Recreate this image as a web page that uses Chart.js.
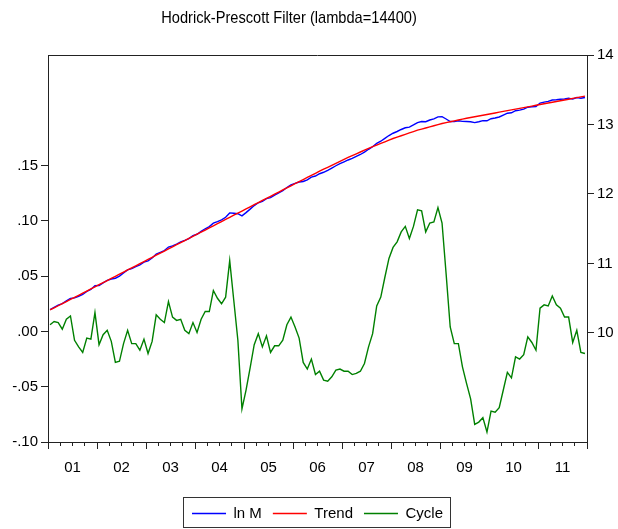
<!DOCTYPE html>
<html lang="en">
<head>
<meta charset="UTF-8" />
<title>Hodrick-Prescott Filter (lambda=14400)</title>
<script src="https://cdn.jsdelivr.net/npm/chart.js@4.4.1/dist/chart.umd.min.js"></script>
<style>
  body{margin:0;background:#fff}
  #wrap{width:618px;height:529px}
</style>
</head>
<body>
<div id="wrap"><canvas id="c"></canvas></div>
<script>
// monthly sample 2001M01 .. 2011M12
const MONTHS = [];
for (let y = 2001; y <= 2011; y++) {
  for (let m = 1; m <= 12; m++) MONTHS.push(y + 'M' + String(m).padStart(2, '0'));
}
const YEAR_LABELS = ['01', '02', '03', '04', '05', '06', '07', '08', '09', '10', '11'];
const TITLE = 'Hodrick-Prescott Filter (lambda=14400)';

const LN_M = [
  10.336, 10.369, 10.399, 10.423, 10.462, 10.496, 10.504, 10.528, 10.553, 10.597, 10.626, 10.680,
  10.682, 10.721, 10.755, 10.776, 10.787, 10.818, 10.864, 10.907, 10.925, 10.955, 10.980, 11.020,
  11.037, 11.079, 11.133, 11.159, 11.186, 11.236, 11.252, 11.279, 11.311, 11.331, 11.358, 11.399,
  11.420, 11.462, 11.499, 11.530, 11.579, 11.602, 11.628, 11.664, 11.727, 11.722, 11.716, 11.684,
  11.731, 11.782, 11.833, 11.873, 11.892, 11.932, 11.947, 11.984, 12.014, 12.049, 12.093, 12.131,
  12.152, 12.172, 12.180, 12.203, 12.242, 12.258, 12.291, 12.312, 12.339, 12.372, 12.406, 12.436,
  12.462, 12.489, 12.512, 12.540, 12.568, 12.602, 12.643, 12.679, 12.727, 12.759, 12.800, 12.841,
  12.874, 12.899, 12.928, 12.953, 12.962, 12.993, 13.028, 13.043, 13.040, 13.064, 13.081, 13.110,
  13.112, 13.079, 13.043, 13.041, 13.053, 13.045, 13.042, 13.039, 13.027, 13.040, 13.055, 13.053,
  13.083, 13.093, 13.108, 13.135, 13.162, 13.168, 13.198, 13.207, 13.222, 13.249, 13.255, 13.259,
  13.308, 13.322, 13.332, 13.352, 13.355, 13.363, 13.366, 13.377, 13.365, 13.387, 13.378, 13.388
];
const TREND = [
  10.330, 10.360, 10.391, 10.421, 10.451, 10.482, 10.512, 10.542, 10.572, 10.603, 10.633, 10.663,
  10.694, 10.724, 10.754, 10.785, 10.815, 10.845, 10.875, 10.906, 10.936, 10.966, 10.997, 11.027,
  11.057, 11.088, 11.118, 11.148, 11.178, 11.209, 11.239, 11.269, 11.300, 11.330, 11.360, 11.391,
  11.421, 11.451, 11.481, 11.512, 11.542, 11.572, 11.603, 11.633, 11.663, 11.694, 11.724, 11.754,
  11.784, 11.815, 11.845, 11.875, 11.906, 11.936, 11.966, 11.997, 12.027, 12.057, 12.087, 12.118,
  12.148, 12.178, 12.208, 12.237, 12.267, 12.297, 12.327, 12.356, 12.384, 12.413, 12.441, 12.470,
  12.498, 12.525, 12.551, 12.578, 12.604, 12.631, 12.657, 12.681, 12.704, 12.728, 12.751, 12.775,
  12.798, 12.818, 12.838, 12.858, 12.878, 12.898, 12.918, 12.934, 12.950, 12.966, 12.982, 12.998,
  13.014, 13.027, 13.039, 13.052, 13.064, 13.077, 13.089, 13.100, 13.111, 13.122, 13.133, 13.144,
  13.155, 13.166, 13.177, 13.188, 13.199, 13.210, 13.221, 13.232, 13.243, 13.254, 13.265, 13.276,
  13.287, 13.298, 13.309, 13.320, 13.331, 13.342, 13.353, 13.364, 13.375, 13.386, 13.397, 13.408
];
const CYCLE = [
  0.006, 0.009, 0.008, 0.002, 0.011, 0.014, -0.008, -0.014, -0.019, -0.006, -0.007, 0.017,
  -0.012, -0.003, 0.001, -0.009, -0.028, -0.027, -0.011, 0.001, -0.011, -0.011, -0.017, -0.007,
  -0.020, -0.009, 0.015, 0.011, 0.008, 0.027, 0.013, 0.010, 0.011, 0.001, -0.002, 0.008,
  -0.001, 0.011, 0.018, 0.018, 0.037, 0.030, 0.025, 0.031, 0.064, 0.028, -0.008, -0.070,
  -0.053, -0.033, -0.012, -0.002, -0.014, -0.004, -0.019, -0.013, -0.013, -0.008, 0.006, 0.013,
  0.004, -0.006, -0.028, -0.034, -0.025, -0.039, -0.036, -0.044, -0.045, -0.041, -0.035, -0.034,
  -0.036, -0.036, -0.039, -0.038, -0.036, -0.029, -0.014, -0.002, 0.023, 0.031, 0.049, 0.066,
  0.076, 0.081, 0.090, 0.095, 0.084, 0.095, 0.110, 0.109, 0.090, 0.098, 0.099, 0.112,
  0.098, 0.052, 0.004, -0.011, -0.011, -0.032, -0.047, -0.061, -0.084, -0.082, -0.078, -0.091,
  -0.072, -0.073, -0.069, -0.053, -0.037, -0.042, -0.023, -0.025, -0.021, -0.005, -0.010, -0.017,
  0.021, 0.024, 0.023, 0.032, 0.024, 0.021, 0.013, 0.013, -0.010, 0.001, -0.019, -0.020
];

const LEFT_TICKS = [-0.10, -0.05, 0, 0.05, 0.10, 0.15];
const LEFT_TICK_LABELS = ['-.10', '-.05', '.00', '.05', '.10', '.15'];
const RIGHT_TICKS = [10, 11, 12, 13, 14];

const FONT = '"Liberation Sans", Arial, sans-serif';
const AXIS = '#222';
Chart.defaults.font.family = FONT;
Chart.defaults.color = '#000';

const toXY = arr => arr.map((v, i) => ({ x: i, y: v }));

// narrow title, top of the frame, legend centred under the plot and boxed
const framePlugin = {
  id: 'frame',
  afterLayout(chart) {
    const lg = chart.legend, a = chart.chartArea;
    if (!lg) return;
    const dx = (a.left + a.right) / 2 - chart.width / 2;
    lg.left += dx; lg.right += dx;
    lg.top += 4; lg.bottom += 4;
  },
  afterDraw(chart) {
    const { ctx, chartArea: a, legend } = chart;
    ctx.save();
    ctx.fillStyle = '#000';
    ctx.font = '17px ' + FONT;
    ctx.textAlign = 'center';
    ctx.textBaseline = 'middle';
    ctx.translate(289, 18);
    ctx.scale(0.86, 1);
    ctx.fillText(TITLE, 0, 0);
    ctx.restore();

    ctx.save();
    ctx.strokeStyle = AXIS;
    ctx.lineWidth = 1;
    ctx.beginPath();
    ctx.moveTo(a.left, a.top + 0.5);
    ctx.lineTo(a.right, a.top + 0.5);
    ctx.stroke();
    if (legend && legend.legendHitBoxes.length) {
      const hb = legend.legendHitBoxes;
      const l = Math.min(...hb.map(h => h.left)) - 9;
      const r = Math.max(...hb.map(h => h.left + h.width)) + 7;
      const t = Math.min(...hb.map(h => h.top)) - 9;
      const b = Math.max(...hb.map(h => h.top + h.height)) + 6;
      ctx.strokeStyle = '#333';
      ctx.strokeRect(Math.round(l) + 0.5, Math.round(t) + 0.5, Math.round(r - l), Math.round(b - t));
    }
    ctx.restore();
  }
};

new Chart(document.getElementById('c'), {
  type: 'line',
  data: {
    datasets: [
      { label: 'ln M', data: toXY(LN_M), borderColor: '#0000ff', yAxisID: 'yR', order: 2 },
      { label: 'Trend', data: toXY(TREND), borderColor: '#ff0000', yAxisID: 'yR', order: 1 },
      { label: 'Cycle', data: toXY(CYCLE), borderColor: '#008000', yAxisID: 'yL', order: 3 }
    ]
  },
  options: {
    responsive: true,
    maintainAspectRatio: false,
    animation: false,
    layout: { padding: { left: 0, right: 0, top: 55, bottom: 2 } },
    elements: {
      point: { radius: 0 },
      line: { borderWidth: 1.4, tension: 0 }
    },
    plugins: {
      title: { display: false },
      legend: {
        position: 'bottom',
        onClick: null,
        labels: {
          usePointStyle: true,
          pointStyleWidth: 34,
          boxWidth: 34,
          padding: 11,
          font: { size: 15 },
          color: '#000',
          generateLabels: chart => chart.data.datasets.map((d, i) => ({
            text: d.label, pointStyle: 'line', fillStyle: d.borderColor, strokeStyle: d.borderColor,
            lineWidth: 1.3, hidden: false, datasetIndex: i
          }))
        }
      },
      tooltip: { enabled: false }
    },
    scales: {
      x: {
        type: 'linear', position: 'bottom', weight: 0,
        min: -0.5, max: MONTHS.length - 0.5,
        afterBuildTicks: s => {
          s.ticks = [];
          for (let k = 0; k <= MONTHS.length; k += 3) s.ticks.push({ value: k - 0.5 });
        },
        ticks: { display: false },
        grid: { drawOnChartArea: false, tickLength: 4, color: AXIS },
        border: { display: true, color: AXIS },
        afterFit: s => { s.height = 0; }
      },
      x2: {
        type: 'linear', position: 'bottom', weight: 1,
        min: -0.5, max: MONTHS.length - 0.5,
        afterBuildTicks: s => {
          s.ticks = [];
          for (let k = 0; k <= YEAR_LABELS.length; k++) s.ticks.push({ value: k * 12 - 0.5 });
        },
        ticks: {
          autoSkip: false, maxRotation: 0, labelOffset: 24.5, padding: 10,
          font: { size: 15 }, color: '#000',
          callback: (v, i) => YEAR_LABELS[i] ?? ''
        },
        grid: { drawOnChartArea: false, tickLength: 7, color: AXIS },
        border: { display: false },
        afterFit: s => {
          const lh = s.chart.legend ? s.chart.legend.height : 0;
          s.height = s.chart.height - 442 - lh - 2;
        }
      },
      yL: {
        type: 'linear', position: 'left',
        min: -0.10, max: 0.25,
        afterBuildTicks: s => { s.ticks = LEFT_TICKS.map(v => ({ value: v })); },
        ticks: { padding: 3, font: { size: 15 }, color: '#000', callback: (v, i) => LEFT_TICK_LABELS[i] },
        grid: { drawOnChartArea: false, tickLength: 7, color: AXIS },
        border: { color: AXIS },
        afterFit: s => { s.width = 48; }
      },
      yR: {
        type: 'linear', position: 'right',
        min: 8.43, max: 14,
        afterBuildTicks: s => { s.ticks = RIGHT_TICKS.map(v => ({ value: v })); },
        ticks: { padding: 3, font: { size: 15 }, color: '#000', callback: (v, i) => String(RIGHT_TICKS[i]) },
        grid: { drawOnChartArea: false, tickLength: 7, color: AXIS },
        border: { color: AXIS },
        afterFit: s => { s.width = 31; }
      }
    }
  },
  plugins: [framePlugin]
});
</script>
</body>
</html>
